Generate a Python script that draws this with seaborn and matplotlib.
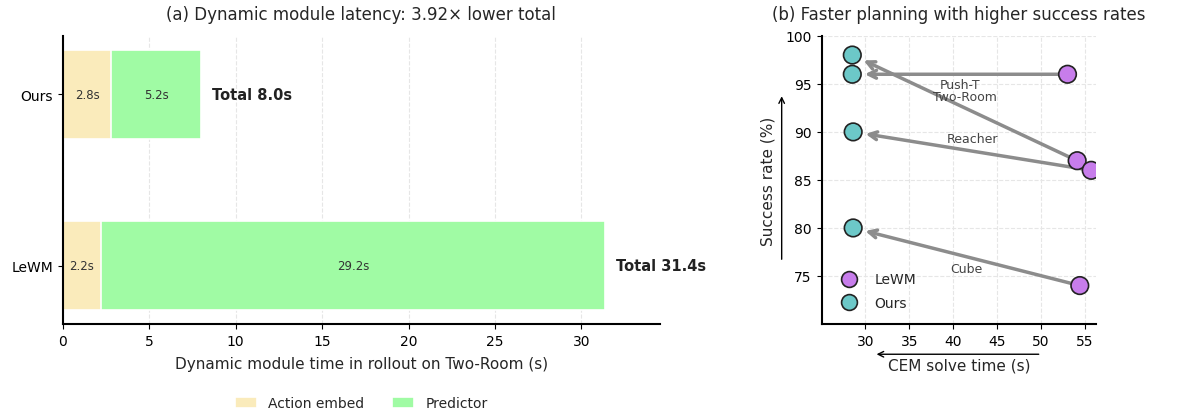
import numpy as np
import pandas as pd
import matplotlib
matplotlib.use("Agg")
import matplotlib.pyplot as plt
import seaborn as sns

# panel (a): dynamic module latency on Two-Room
models = ["Ours", "LeWM"]
embed_time = [2.8, 2.2]
predictor_time = [5.2, 29.2]

# panel (b): CEM solve time vs success rate
tasks = ["Push-T", "Two-Room", "Reacher", "Cube"]
lewm_time = [53.0, 54.1, 55.7, 54.4]
lewm_success = [96, 87, 86, 74]
ours_time = [28.5, 28.5, 28.6, 28.6]
ours_success = [96, 98, 90, 80]
label_dy = [-1.1, 1.2, 1.3, -1.2]

EMBED_C = "#faebbb"
PRED_C = "#a0fba4"
LEWM_C = "#c77deb"
OURS_C = "#6cc8c8"

sns.set_style("ticks")
plt.rcParams["font.family"] = ["DejaVu Sans"]

fig = plt.figure(figsize=(11.77, 4.14), dpi=100)
ax1 = fig.add_axes([0.0535, 0.215, 0.507, 0.696])
ax2 = fig.add_axes([0.698, 0.215, 0.2336, 0.696])

# ── (a) stacked horizontal bars ──
df = pd.DataFrame({"model": models, "embed": embed_time,
                   "pred": predictor_time})
df["total"] = df["embed"] + df["pred"]

sns.barplot(data=df, y="model", x="total", color=PRED_C, width=0.52,
            edgecolor="white", linewidth=1.2, saturation=1, ax=ax1,
            label="Predictor", zorder=3)
sns.barplot(data=df, y="model", x="embed", color=EMBED_C, width=0.52,
            edgecolor="white", linewidth=1.2, saturation=1, ax=ax1,
            label="Action embed", zorder=3)

for i, row in df.iterrows():
    ax1.text(row["embed"] / 2, i, f"{row['embed']:.1f}s", ha="center",
             va="center", fontsize=8.5, color="#333333", zorder=4)
    ax1.text(row["embed"] + row["pred"] / 2, i, f"{row['pred']:.1f}s",
             ha="center", va="center", fontsize=8.5, color="#333333", zorder=4)
    ax1.text(row["total"] + 0.6, i, f"Total {row['total']:.1f}s",
             ha="left", va="center", fontsize=10.5, fontweight="bold",
             color="#222222")

ax1.set_xlim(0, df["total"].max() * 1.1)
ax1.set_ylim(1.34, -0.34)
ax1.set_xticks(np.arange(0, 31, 5))
ax1.set_xlabel("Dynamic module time in rollout on Two-Room (s)", fontsize=11,
               labelpad=6)
ax1.set_ylabel("")
ax1.tick_params(labelsize=10, colors="black")
ax1.grid(axis="x", linestyle="--", color="#e6e6e6", linewidth=0.8, zorder=0)
ax1.set_axisbelow(True)
for s in ["top", "right"]:
    ax1.spines[s].set_visible(False)
for s in ["left", "bottom"]:
    ax1.spines[s].set_linewidth(1.5)
    ax1.spines[s].set_color("black")
    ax1.spines[s].set_zorder(6)
ratio = df["total"][1] / df["total"][0]
ax1.set_title(f"(a) Dynamic module latency: {ratio:.2f}\u00d7 lower total",
              fontsize=12, pad=12)
h, l = ax1.get_legend_handles_labels()
ax1.legend(h[::-1], l[::-1], loc="center", bbox_to_anchor=(0.5, -0.275),
           ncol=2, frameon=False, fontsize=10, handlelength=1.6,
           handleheight=0.9)

# ── (b) arrows from LeWM to Ours ──
for t, x0, y0, x1, y1, dy in zip(tasks, lewm_time, lewm_success,
                                 ours_time, ours_success, label_dy):
    ax2.annotate("", xy=(x1, y1), xytext=(x0, y0),
                 arrowprops=dict(arrowstyle="->", color="#8c8c8c", lw=2.5,
                                 shrinkA=0, shrinkB=9, mutation_scale=14),
                 zorder=2)
    ax2.text((x0 + x1) / 2, (y0 + y1) / 2 + dy, t, ha="center",
             va="center", fontsize=9, color="#444444", zorder=4)

pts = pd.DataFrame({
    "time": lewm_time + ours_time,
    "success": lewm_success + ours_success,
    "method": ["LeWM"] * len(tasks) + ["Ours"] * len(tasks),
})
sns.scatterplot(data=pts, x="time", y="success", hue="method",
                palette={"LeWM": LEWM_C, "Ours": OURS_C}, s=160,
                edgecolor="#222222", linewidth=1.2, ax=ax2, zorder=3)

ax2.set_xlim(25, 56.3)
ax2.set_ylim(70, 100)
ax2.set_xticks(np.arange(30, 56, 5))
ax2.set_yticks(np.arange(75, 101, 5))
ax2.tick_params(labelsize=10, colors="black")
ax2.grid(linestyle="--", color="#e6e6e6", linewidth=0.8)
ax2.set_axisbelow(True)
for s in ["top", "right"]:
    ax2.spines[s].set_visible(False)
for s in ["left", "bottom"]:
    ax2.spines[s].set_linewidth(1.5)
    ax2.spines[s].set_color("black")
ax2.set_xlabel("CEM solve time (s)", fontsize=11, labelpad=7)
ax2.set_ylabel("Success rate (%)", fontsize=11, labelpad=7)
ax2.set_title("(b) Faster planning with higher success rates", fontsize=12,
              pad=12)
ax2.legend(loc="lower left", frameon=False, fontsize=10, title=None,
           markerscale=0.9, handletextpad=0.8, borderaxespad=0.6,
           labelspacing=0.7)

# direction hints beside the axis labels
ax2.annotate("", xy=(0.19, -0.105), xytext=(0.80, -0.105),
             xycoords="axes fraction",
             arrowprops=dict(arrowstyle="->", color="black", lw=1))
ax2.annotate("", xy=(-0.145, 0.80), xytext=(-0.145, 0.215),
             xycoords="axes fraction",
             arrowprops=dict(arrowstyle="->", color="black", lw=1))

fig.savefig("out.png", dpi=100)
